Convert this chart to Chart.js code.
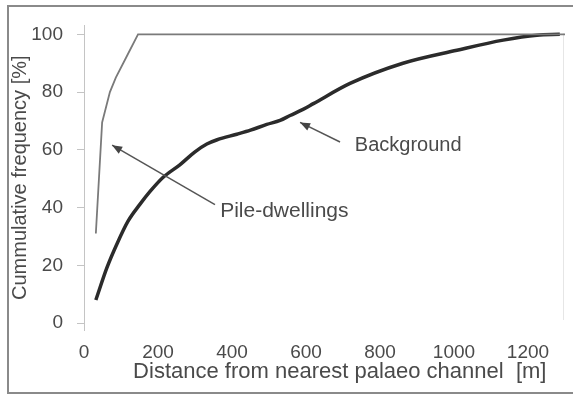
<!DOCTYPE html>
<html lang="en">
<head>
    <meta charset="UTF-8">
    <title>Cumulative frequency vs distance from palaeo channel</title>
    <script src="https://cdn.jsdelivr.net/npm/chart.js"></script>
    <style>
        html, body { margin: 0; padding: 0; background: #fff; }
        canvas { display: block; }
    </style>
</head>
<body>
    <canvas id="cumChart" width="573" height="396"></canvas>

    <script>
        // --- data ---
        const pileX = [32, 49, 70, 86, 116, 146, 1300];
        const pileY = [31, 69.5, 80, 85, 92.5, 100, 100];

        const bgX = [32, 62, 89, 119, 151, 178, 214, 259, 300, 332, 360, 413, 450, 494, 530, 557, 592, 620, 719, 862, 1008, 1133, 1224, 1286];
        const bgY = [8, 19.2, 27.4, 35.3, 41.1, 45.5, 50.5, 54.8, 59.3, 62, 63.5, 65.4, 66.8, 68.8, 70.2, 71.9, 74, 76, 83, 90, 94.5, 98, 99.7, 100];

        const xTicks = [0, 200, 400, 600, 800, 1000, 1200];
        const yTicks = [0, 20, 40, 60, 80, 100];

        const FONT = "'Liberation Sans', Arial, Helvetica, sans-serif";
        const TEXT = '#4a4a4a';

        // labels with arrows, given in data units
        const notes = [
            { text: 'Pile-dwellings', size: 21, tx: 368, ty: 38.7, from: [354, 41], to: [76, 61.6] },
            { text: 'Background', size: 20, tx: 732, ty: 61.6, from: [692, 62.7], to: [584, 69.5] }
        ];

        const toPoints = (xs, ys) => xs.map((x, i) => ({ x: x, y: ys[i] }));

        // frame round the whole figure, faint right edge of the plot box, arrows and labels
        const figurePlugin = {
            id: 'figure',
            beforeDraw(chart) {
                const ctx = chart.ctx, a = chart.chartArea;
                ctx.save();
                ctx.fillStyle = '#fff';
                ctx.fillRect(0, 0, chart.width, chart.height);
                ctx.strokeStyle = '#8a8a8a';
                ctx.lineWidth = 2;
                ctx.strokeRect(8, 6, 570, 387);
                ctx.strokeStyle = '#e6e6e6';
                ctx.lineWidth = 1;
                ctx.beginPath();
                ctx.moveTo(a.right - 1.5, a.top + 8);
                ctx.lineTo(a.right - 1.5, a.bottom - 10);
                ctx.stroke();
                ctx.restore();
            },
            afterDatasetsDraw(chart) {
                const ctx = chart.ctx, xs = chart.scales.x, ys = chart.scales.y;
                ctx.save();
                notes.forEach(n => {
                    const x1 = xs.getPixelForValue(n.from[0]), y1 = ys.getPixelForValue(n.from[1]);
                    const x2 = xs.getPixelForValue(n.to[0]), y2 = ys.getPixelForValue(n.to[1]);
                    ctx.strokeStyle = '#555';
                    ctx.fillStyle = '#444';
                    ctx.lineWidth = 1.5;
                    ctx.beginPath();
                    ctx.moveTo(x1, y1);
                    ctx.lineTo(x2, y2);
                    ctx.stroke();
                    // arrow head
                    const a = Math.atan2(y2 - y1, x2 - x1), L = 10, W = 4;
                    ctx.beginPath();
                    ctx.moveTo(x2, y2);
                    ctx.lineTo(x2 - L * Math.cos(a) + W * Math.sin(a), y2 - L * Math.sin(a) - W * Math.cos(a));
                    ctx.lineTo(x2 - L * Math.cos(a) - W * Math.sin(a), y2 - L * Math.sin(a) + W * Math.cos(a));
                    ctx.closePath();
                    ctx.fill();
                    ctx.font = n.size + 'px ' + FONT;
                    ctx.fillStyle = TEXT;
                    ctx.textBaseline = 'middle';
                    ctx.textAlign = 'left';
                    ctx.fillText(n.text, xs.getPixelForValue(n.tx), ys.getPixelForValue(n.ty));
                });
                ctx.restore();
            }
        };

        new Chart(document.getElementById('cumChart').getContext('2d'), {
            type: 'line',
            data: {
                datasets: [
                    {
                        label: 'Pile-dwellings',
                        data: toPoints(pileX, pileY),
                        borderColor: '#7a7a7a',
                        borderWidth: 1.8,
                        pointRadius: 0,
                        tension: 0,
                        fill: false
                    },
                    {
                        label: 'Background',
                        data: toPoints(bgX, bgY),
                        borderColor: '#2b2b2b',
                        borderWidth: 3.5,
                        pointRadius: 0,
                        cubicInterpolationMode: 'monotone',
                        fill: false
                    }
                ]
            },
            options: {
                responsive: false,
                animation: false,
                events: [],
                layout: { padding: { left: 8, right: 8, top: 22, bottom: 11 } },
                plugins: {
                    legend: { display: false },
                    tooltip: { enabled: false }
                },
                scales: {
                    x: {
                        type: 'linear',
                        min: 0,
                        max: 1300,
                        afterBuildTicks: s => { s.ticks = xTicks.map(v => ({ value: v })); },
                        afterFit: s => { s.height = 55; },
                        grid: { display: false, drawTicks: false },
                        border: { display: false },
                        ticks: { color: TEXT, font: { family: FONT, size: 19 }, padding: 11, maxRotation: 0, autoSkip: false, callback: v => String(v) },
                        // leading spaces nudge the centred title right, as in the original
                        title: { display: true, text: '     Distance from nearest palaeo channel  [m]', color: TEXT, font: { family: FONT, size: 22 }, padding: 0 }
                    },
                    y: {
                        min: -2.4,
                        max: 103.1,
                        afterBuildTicks: s => { s.ticks = yTicks.map(v => ({ value: v })); },
                        afterFit: s => { s.width = 76; },
                        grid: { drawOnChartArea: false, tickLength: 7, color: '#c4c4c4' },
                        border: { display: true, color: '#c4c4c4', width: 1 },
                        ticks: { color: TEXT, font: { family: FONT, size: 19 }, padding: 14, autoSkip: false, callback: v => String(v) },
                        title: { display: true, text: 'Cummulative frequency [%]', color: TEXT, font: { family: FONT, size: 20 }, padding: 0 }
                    }
                }
            },
            plugins: [figurePlugin]
        });
    </script>
</body>
</html>
